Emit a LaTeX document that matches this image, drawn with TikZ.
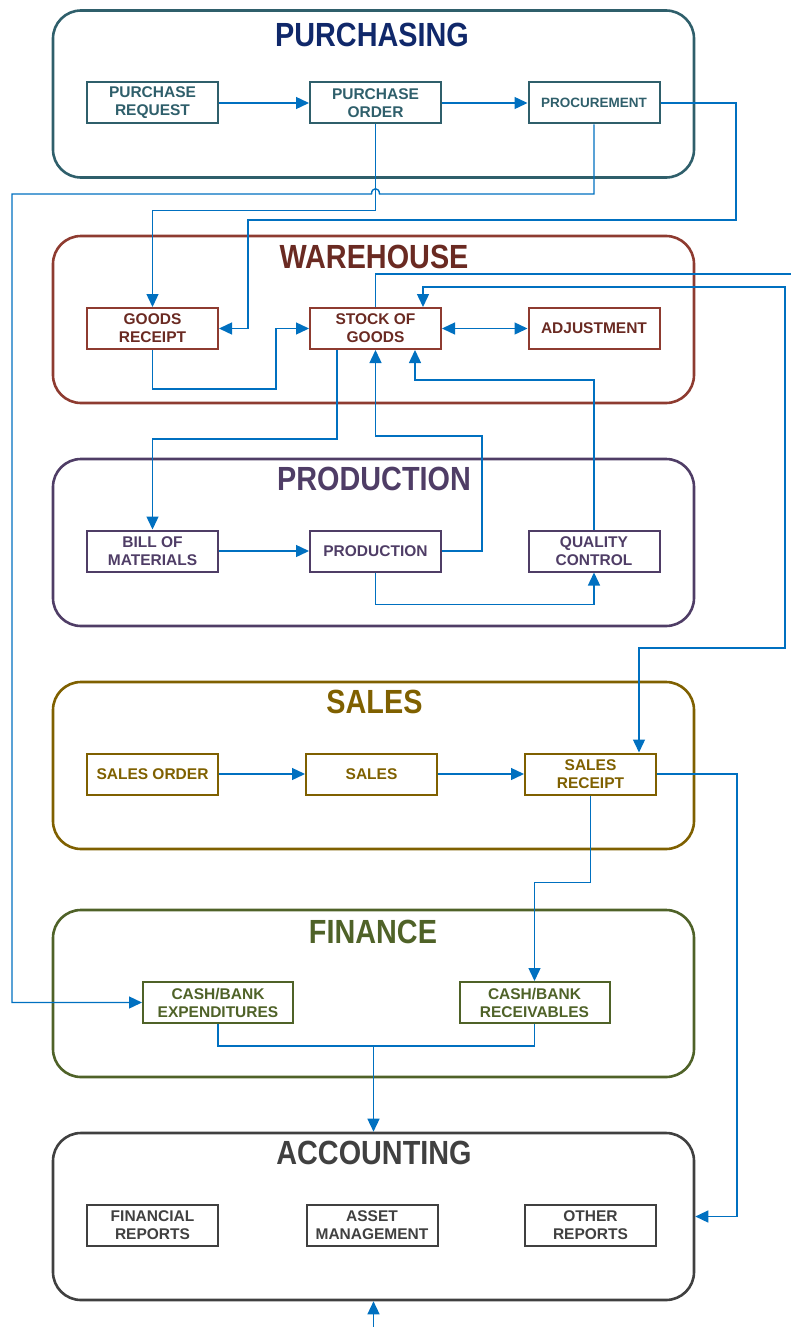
\documentclass[tikz,border=0pt]{standalone}
\usepackage{fontspec}
\setmainfont{Liberation Sans}
\newfontfamily\titlefont[FakeStretch=0.86]{Liberation Sans}
\usetikzlibrary{arrows.meta}
\definecolor{linkblue}{HTML}{0070C0}
\definecolor{purchline}{HTML}{2F5F6B}
\definecolor{purchtitle}{HTML}{10286A}
\definecolor{wareline}{HTML}{8E3B30}
\definecolor{waretext}{HTML}{6A2A22}
\definecolor{prodline}{HTML}{4F3D66}
\definecolor{salesline}{HTML}{7F6000}
\definecolor{finline}{HTML}{4F6228}
\definecolor{accline}{HTML}{404040}
\tikzset{
  grp/.style={draw=#1, line width=2.6pt, rounded corners=28pt, minimum width=641pt, minimum height=167pt, inner sep=0pt},
  ttl/.style={text=#1, font=\titlefont\bfseries\fontsize{33.5}{36}\selectfont, inner sep=0pt},
  blk/.style={draw=#1, text=#1, line width=2pt, minimum width=131pt, minimum height=41pt, inner sep=0pt, align=center, font=\bfseries\fontsize{15.5}{18}\selectfont},
  conn/.style={draw=linkblue, line width=1.4pt, >={Triangle[length=13pt,width=12pt]}}
}
\begin{document}
\begin{tikzpicture}[x=1pt, y=-1pt]
			%%%%% START %%%%%
			\useasboundingbox (0,0) rectangle (791,1327);
			
			% groups
			\node[grp=purchline] (purchasing) at (373.5,94) {};
			\node[grp=wareline] (warehouse) at (373.5,319.5) {};
			\node[grp=prodline] (production) at (373.5,542.5) {};
			\node[grp=salesline] (salesgrp) at (373.5,765.5) {};
			\node[grp=finline] (finance) at (373.5,993.5) {};
			\node[grp=accline] (accounting) at (373.5,1216.5) {};
			
			\node[ttl=purchtitle] (purchtitle) at (372,35) {PURCHASING};
			\node[ttl=waretext] (waretitle) at (374,257) {WAREHOUSE};
			\node[ttl=prodline] (prodtitle) at (374,479) {PRODUCTION};
			\node[ttl=salesline] (salestitle) at (374.5,702) {SALES};
			\node[ttl=finline] (fintitle) at (373,932) {FINANCE};
			\node[ttl=accline] (acctitle) at (374,1153) {ACCOUNTING};
			
			% purchasing
			\node[blk=purchline] (preq) at (152.5,103) {PURCHASE\\REQUEST};
			\node[blk=purchline] (pord) at (375.5,103) {PURCHASE\\ORDER};
			\node[blk=purchline, font=\bfseries\fontsize{13.5}{16}\selectfont] (proc) at (594,103) {PROCUREMENT};
			
			% warehouse
			\node[blk=wareline, text=waretext] (grec) at (152.5,328.5) {GOODS\\RECEIPT};
			\node[blk=wareline, text=waretext] (stock) at (375.5,328.5) {STOCK OF\\GOODS};
			\node[blk=wareline, text=waretext] (adj) at (594,328.5) {ADJUSTMENT};
			
			% production
			\node[blk=prodline] (bom) at (152.5,551) {BILL OF\\MATERIALS};
			\node[blk=prodline] (prod) at (375.5,551) {PRODUCTION};
			\node[blk=prodline] (qc) at (594,551) {QUALITY\\CONTROL};
			
			% sales
			\node[blk=salesline] (sorder) at (152.5,774) {SALES ORDER};
			\node[blk=salesline] (sales) at (371.5,774) {SALES};
			\node[blk=salesline] (srec) at (590.5,774) {SALES\\RECEIPT};
			
			% finance
			\node[blk=finline, minimum width=150pt] (cbexp) at (218,1002.5) {CASH/BANK\\EXPENDITURES};
			\node[blk=finline, minimum width=150pt] (cbrec) at (534.5,1002.5) {CASH/BANK\\RECEIVABLES};
			
			% accounting
			\node[blk=accline] (frep) at (152.5,1225.5) {FINANCIAL\\REPORTS};
			\node[blk=accline] (asset) at (372,1225.5) {ASSET\\MANAGEMENT};
			\node[blk=accline] (orep) at (590.5,1225.5) {OTHER\\REPORTS};
			
			\coordinate (wareout) at (791,274);
			\coordinate (fjoin) at (373.5,1045);
			\coordinate (accin) at (373.5,1327);
			
			% connectors
			\draw[conn, ->] (preq) -- (pord);
			\draw[conn, ->] (pord) -- (proc);
			\draw[conn, ->] (pord.south) -- ++(0,86) -| (grec.north);
			\draw[conn, ->] (proc.south) -- (594,194) -- (379.5,194) .. controls (379.5,187) and (371.5,187) .. (371.5,194) -- (12,194) |- (cbexp.west);
			\draw[conn, ->] (proc.east) -| (736,220) -- (248,220) |- (grec.east);
			
			\draw[conn, ->] (grec.south) |- (276,389) |- (stock.west);
			\draw[conn, <->] (stock.east) -- (adj.west);
			\draw[conn] (stock.north) |- (wareout);
			\draw[conn, <->] ([xshift=47.5pt]stock.north) |- (785,287) -- (785,648) -| ([xshift=48.5pt]srec.north);
			\draw[conn, ->] ([xshift=-38.5pt]stock.south) -- ++(0,89) -| (bom.north);
			\draw[conn, ->] (prod.east) -| (482,436) -| (stock.south);
			\draw[conn, ->] (qc.north) -- (594,380) -| ([xshift=39.5pt]stock.south);
			
			\draw[conn, ->] (bom) -- (prod);
			\draw[conn, ->] (prod.south) -- ++(0,32) -| (qc.south);
			
			\draw[conn, ->] (sorder) -- (sales);
			\draw[conn, ->] (sales) -- (srec);
			\draw[conn, ->] (srec.east) -- (737,774) |- (accounting.east);
			\draw[conn, ->] (srec.south) -- ++(0,87) -| (cbrec.north);
			
			\draw[conn] (cbexp.south) -- ++(0,22) -| (cbrec.south);
			\draw[conn, ->] (fjoin) -- (accounting.north);
			\draw[conn, ->] (accin) -- (accounting.south);
			
			%%%%% END %%%%%
\end{tikzpicture}
\end{document}
